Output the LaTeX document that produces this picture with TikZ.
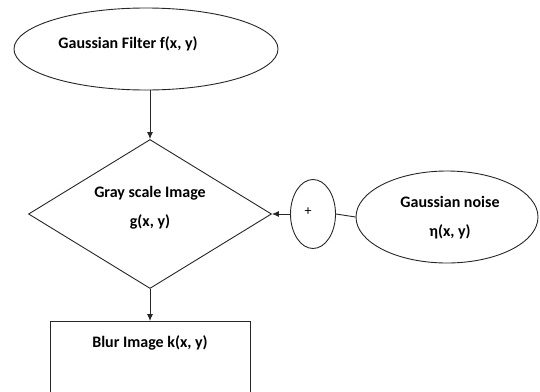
\documentclass[tikz,border=0pt]{standalone}
\usepackage{fontspec}
\setmainfont{Carlito}
\usetikzlibrary{shapes.geometric,arrows.meta}
\begin{document}
\begin{tikzpicture}[x=1pt,y=-1pt,
  shp/.style={draw=black!85,line width=0.9pt},
  lbl/.style={font=\fontsize{16}{18}\selectfont\bfseries,inner sep=0pt},
  arr/.style={draw=black!85,line width=0.9pt,-{Latex[length=7pt,width=6pt]}},
  conn/.style={draw=black!85,line width=0.9pt}]
\useasboundingbox (0,0) rectangle (540,391);
\clip (0,0) rectangle (540,391);
% nodes
\node[shp,ellipse,minimum width=264pt,minimum height=82pt] (filt) at (146,49) {};
\node[lbl] (filtt) at (128,44) {Gaussian Filter f(x, y)};
\node[shp,diamond,minimum width=243pt,minimum height=149pt,inner sep=0pt] (gray) at (150,214) {};
\node[lbl] (grayt1) at (150,193) {Gray scale Image};
\node[lbl] (grayt2) at (150,222) {g(x, y)};
\node[shp,ellipse,minimum width=45pt,minimum height=69pt,inner sep=0pt] (plus) at (313,214) {};
\node[font=\fontsize{14}{16}\selectfont,inner sep=0pt] (plust) at (308,212) {+};
\node[shp,ellipse,minimum width=182pt,minimum height=92pt,inner sep=0pt] (noise) at (447,217) {};
\node[lbl] (noiset1) at (450,202) {Gaussian noise};
\node[lbl] (noiset2) at (450,232) {η(x, y)};
\node[shp,rectangle,minimum width=200pt,minimum height=100pt,anchor=north,inner sep=0pt] (blur) at (150,321) {};
\node[lbl] (blurt) at (150,343) {Blur Image k(x, y)};
% connectors
\draw[arr] (filt.south -| gray.north) -- (gray.north);
\draw[arr] (plus.west) -- (gray.east);
\draw[conn] (plus.east) -- (noise.west);
\draw[arr] (gray.south) -- (blur.north);
\end{tikzpicture}
\end{document}
